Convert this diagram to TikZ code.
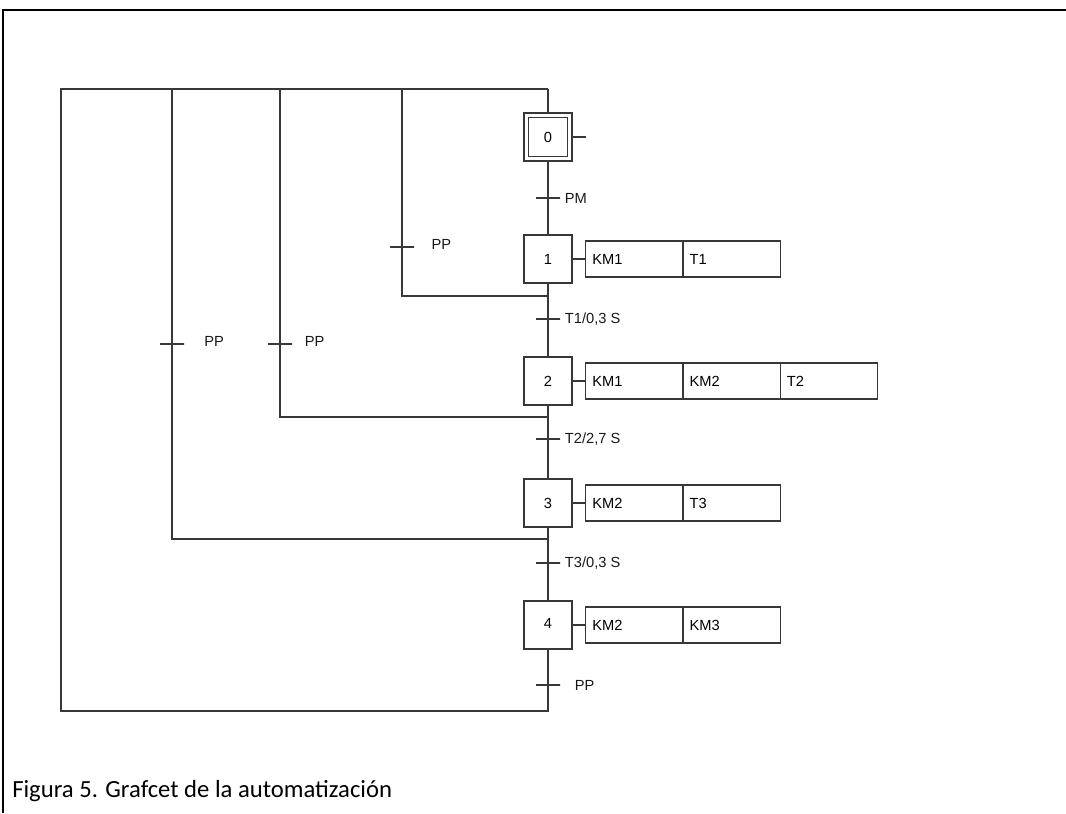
\documentclass[tikz,border=0pt]{standalone}
\usepackage{fontspec}
\setmainfont{Liberation Sans}
\newfontfamily\captionfont{Carlito}
\usetikzlibrary{positioning}

\begin{document}
\begin{tikzpicture}[x=0.75pt,y=0.75pt,yscale=-1,xscale=1,
    linea/.style={draw=black!78, line width=0.9pt},
    etapa/.style={draw=black!78, line width=0.9pt, minimum size=36pt, inner sep=0pt, font=\fontsize{11}{13}\selectfont},
    interior/.style={draw=black!78, line width=0.9pt, minimum size=29.5pt, inner sep=0pt},
    accion/.style={draw=black!78, line width=0.9pt, outer sep=0pt, minimum height=27pt, text width=63pt, inner sep=5pt, align=left, font=\fontsize{11}{13}\selectfont},
    receptividad/.style={draw=black!78, line width=0.9pt, minimum width=18pt, minimum height=0pt, inner sep=0pt, outer sep=0pt},
    lbl/.style={inner sep=0pt, font=\fontsize{11}{13}\selectfont, text=black!90}]
\useasboundingbox (0,0) rectangle (1066,813);

% marco exterior
\draw[line width=1.5pt] (3,813) -- (3,10) -- (1066,10);

% etapas
\node[etapa] (e0) at (548,137) {};
\node[interior] (e0i) at (e0.center) {\fontsize{11}{13}\selectfont 0};
\node[etapa] (e1) at (548,259) {1};
\node[etapa] (e2) at (548,381) {2};
\node[etapa] (e3) at (548,503) {3};
\node[etapa] (e4) at (548,625) {\raisebox{3pt}{4}};

% acciones
\node[accion, right=9.75pt of e1] (a11) {KM1};
\node[accion, right=0pt of a11] (a12) {T1};
\node[accion, right=9.75pt of e2] (a21) {KM1};
\node[accion, right=0pt of a21] (a22) {KM2};
\node[accion, right=0pt of a22] (a23) {T2};
\node[accion, right=9.75pt of e3] (a31) {KM2};
\node[accion, right=0pt of a31] (a32) {T3};
\node[accion, right=9.75pt of e4] (a41) {KM2};
\node[accion, right=0pt of a41] (a42) {KM3};

% receptividades
\node[receptividad, label={[lbl, label distance=3.5pt]right:PM}] (t0) at (548,198) {};
\node[receptividad, label={[lbl, label distance=3.5pt]right:T1/0,3 S}] (t1) at (548,319) {};
\node[receptividad, label={[lbl, label distance=3.5pt]right:T2/2,7 S}] (t2) at (548,439) {};
\node[receptividad, label={[lbl, label distance=3.5pt]right:T3/0,3 S}] (t3) at (548,563) {};
\node[receptividad, label={[lbl, label distance=11pt]right:PP}] (t4) at (548,685) {};
\node[receptividad, label={[lbl, label distance=13pt, yshift=2pt]right:PP}] (p1) at (402,247) {};
\node[receptividad, label={[lbl, label distance=9.5pt, yshift=2pt]right:PP}] (p2) at (280,344) {};
\node[receptividad, label={[lbl, label distance=15pt, yshift=2pt]right:PP}] (p3) at (172,344) {};

% puntos de la linea principal y del bucle
\coordinate (arriba) at (548,89);
\coordinate (abajo) at (548,711);
\coordinate (esquina) at (61,89);
\coordinate (c0) at (586,137);
\coordinate (j1) at (548,296);
\coordinate (j2) at (548,417);
\coordinate (j3) at (548,539);
\coordinate (r1) at (402,296);
\coordinate (r2) at (280,417);
\coordinate (r3) at (172,539);
\coordinate (s1) at (402,89);
\coordinate (s2) at (280,89);
\coordinate (s3) at (172,89);

% secuencia principal
\draw[linea] (arriba) -- (e0) -- (t0) -- (e1) -- (t1) -- (e2) -- (t2) -- (e3) -- (t3) -- (e4) -- (t4) -- (abajo) -| (esquina) -- (arriba);
\draw[linea] (e0) -- (c0);

% saltos con PP
\draw[linea] (j1) -- (r1) -- (p1) -- (s1);
\draw[linea] (j2) -- (r2) -- (p2) -- (s2);
\draw[linea] (j3) -- (r3) -- (p3) -- (s3);

% enlaces a las acciones
\draw[linea] (e1) -- (a11);
\draw[linea] (e2) -- (a21);
\draw[linea] (e3) -- (a31);
\draw[linea] (e4) -- (a41);

% pie de figura
\node[anchor=base west, inner sep=0pt, font=\captionfont\fontsize{18.5}{22}\selectfont] (pie) at (12,797) {Figura 5. Grafcet de la automatización};
\end{tikzpicture}
\end{document}
